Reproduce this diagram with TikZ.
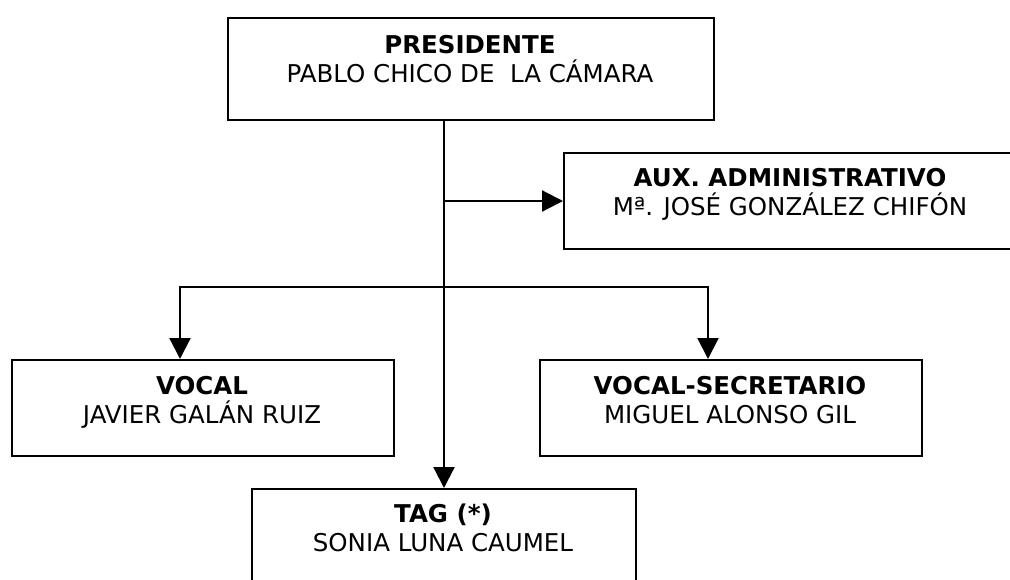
\documentclass[tikz,border=0pt]{standalone}
\usepackage{fontspec}
\setmainfont{DejaVu Sans}
\usetikzlibrary{arrows.meta}
\begin{document}
\begin{tikzpicture}[x=1pt,y=-1pt,
  box/.style={draw, line width=2pt, rectangle, inner sep=0pt, anchor=north west, fill=white},
  ttl/.style={anchor=base, inner sep=0pt, font=\fontsize{24.5}{29}\selectfont\bfseries},
  nm/.style={anchor=base, inner sep=0pt, font=\fontsize{24.5}{29}\selectfont},
  arr/.style={line width=2.2pt, -{Triangle[length=21pt,width=21pt]}}]
\useasboundingbox (0,0) rectangle (1010,579);
\clip (0,0) rectangle (1010,579);
% boxes
\node[box, minimum width=486pt, minimum height=102pt] (pres) at (227,17) {};
\node[box, minimum width=454pt, minimum height=96pt] (aux) at (563,152) {};
\node[box, minimum width=382pt, minimum height=96pt] (vocal) at (11,359) {};
\node[box, minimum width=382pt, minimum height=96pt] (vsec) at (539,359) {};
\node[box, minimum width=384pt, minimum height=96pt] (tag) at (251,488) {};
% texts
\node[ttl] (presT) at (470,53) {PRESIDENTE};
\node[nm]  (presN) at (470,82) {PABLO CHICO DE\ \ LA CÁMARA};
\node[ttl] (auxT) at (790,186) {AUX. ADMINISTRATIVO};
\node[nm]  (auxN) at (790,215) {Mª. JOSÉ GONZÁLEZ CHIFÓN};
\node[ttl] (vocalT) at (202,394) {VOCAL};
\node[nm]  (vocalN) at (202,423) {JAVIER GALÁN RUIZ};
\node[ttl] (vsecT) at (730,394) {VOCAL-SECRETARIO};
\node[nm]  (vsecN) at (730,423) {MIGUEL ALONSO GIL};
\node[ttl] (tagT) at (443,522) {TAG (*)};
\node[nm]  (tagN) at (443,551) {SONIA LUNA CAUMEL};
% connectors
\coordinate (bar) at (443,287);
\draw[arr] (tag.north |- pres.south) -- (tag.north);
\draw[arr] (tag.north |- aux.west) -- (aux.west);
\draw[arr] (bar) -| ([xshift=-23pt]vocal.north);
\draw[arr] (bar) -| ([xshift=-23pt]vsec.north);
\end{tikzpicture}
\end{document}
